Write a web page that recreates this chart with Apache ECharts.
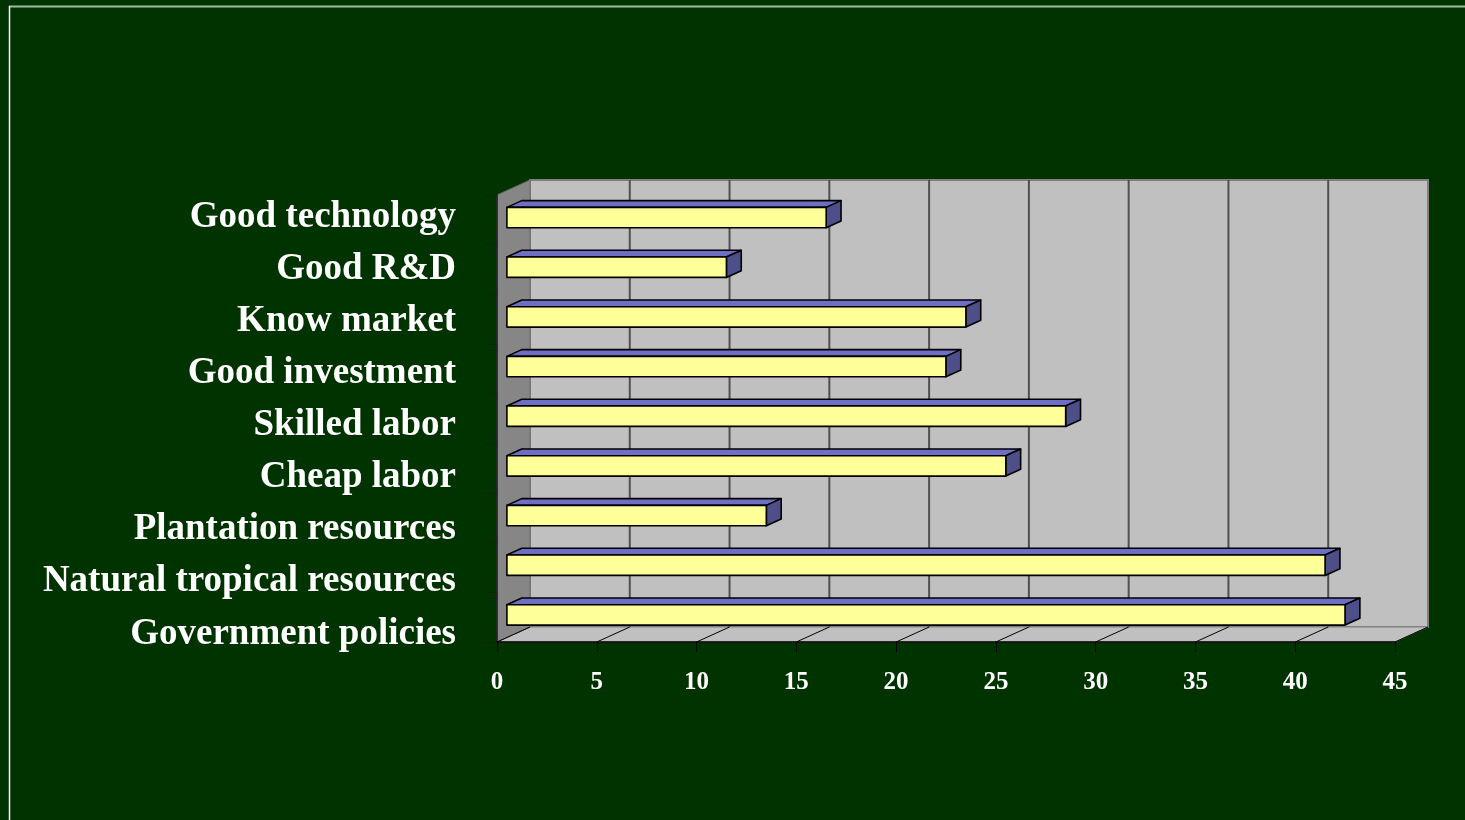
<!DOCTYPE html>
<html>
<head>
<meta charset="utf-8">
<script src="https://cdn.jsdelivr.net/npm/echarts@6/dist/echarts.min.js"></script>
<style>
  html, body { margin: 0; padding: 0; background: #003300; }
  #chart { width: 1465px; height: 820px; }
</style>
</head>
<body>
<div id="chart"></div>
<script>
// ---- data ----
const categories = ['Good technology', 'Good R&D', 'Know market', 'Good investment', 'Skilled labor', 'Cheap labor', 'Plantation resources', 'Natural tropical resources', 'Government policies'];
const values = [16, 11, 23, 22, 28, 25, 13, 41, 42];
const xTickValues = [0, 5, 10, 15, 20, 25, 30, 35, 40, 45];

// ---- 3D look ----
const DX = 33, DY = -15;          // depth vector (front plane -> back wall)
const BAR_FRONT = 0.30, BAR_DEPTH = 0.45;
const FONT = '"Liberation Serif", "Times New Roman", serif';

const chart = echarts.init(document.getElementById('chart'));

const barData = values.map((v, i) => [v, i]);
const tickData = xTickValues.map(v => [v, 0]);

function renderWalls(params, api) {
  const cs = params.coordSys;
  const L = cs.x, T = cs.y, R = cs.x + cs.width, B = cs.y + cs.height;
  return {
    type: 'group',
    children: [
      { type: 'rect', shape: { x: L + DX, y: T + DY, width: cs.width, height: cs.height },
        style: { fill: '#c0c0c0', stroke: '#808080', lineWidth: 2 } },
      { type: 'polygon', shape: { points: [[L, B], [R, B], [R + DX, B + DY], [L + DX, B + DY]] },
        style: { fill: '#c0c0c0', stroke: '#808080', lineWidth: 1 } },
      { type: 'polygon', shape: { points: [[L, T], [L + DX, T + DY], [L + DX, B + DY], [L, B]] },
        style: { fill: '#868686', stroke: '#6a6a6a', lineWidth: 1 } }
    ]
  };
}

function renderGridLines(params, api) {
  const cs = params.coordSys;
  const T = cs.y, B = cs.y + cs.height;
  const v = api.value(0);
  const p = api.coord([v, 0]);
  const x = p[0];
  const children = [
    { type: 'line', shape: { x1: x, y1: B, x2: x + DX, y2: B + DY },
      style: { stroke: '#000', lineWidth: 1 } }
  ];
  if (v > xTickValues[0] && v < xTickValues[xTickValues.length - 1]) {
    children.push({ type: 'line', shape: { x1: x + DX, y1: T + DY, x2: x + DX, y2: B + DY },
      style: { stroke: '#505050', lineWidth: 2 } });
  }
  return { type: 'group', children };
}

function renderBar(params, api) {
  const val = api.value(0), idx = api.value(1);
  const a = api.coord([0, idx]);
  const b = api.coord([val, idx]);
  const band = api.size([0, 1])[1];
  const ox = DX * BAR_FRONT, oy = DY * BAR_FRONT;
  const gx = DX * BAR_DEPTH, gy = DY * BAR_DEPTH;
  const bandTop = a[1] - band / 2;
  const y0 = bandTop + 0.34 * band + oy;
  const y1 = y0 + 0.41 * band;
  const x0 = a[0] + ox, x1 = b[0] + ox;
  const st = { stroke: '#000', lineWidth: 1.6, lineJoin: 'round' };
  return {
    type: 'group',
    children: [
      { type: 'polygon', shape: { points: [[x0, y0], [x1, y0], [x1 + gx, y0 + gy], [x0 + gx, y0 + gy]] },
        style: Object.assign({ fill: '#6e6ec4' }, st) },
      { type: 'polygon', shape: { points: [[x1, y0], [x1 + gx, y0 + gy], [x1 + gx, y1 + gy], [x1, y1]] },
        style: Object.assign({ fill: '#4e4e88' }, st) },
      { type: 'rect', shape: { x: x0, y: y0, width: x1 - x0, height: y1 - y0 },
        style: Object.assign({ fill: '#ffff99' }, st) }
    ]
  };
}

const option = {
  backgroundColor: '#003300',
  animation: false,
  graphic: [
    { type: 'line', shape: { x1: 9, y1: 6.5, x2: 1465, y2: 6.5 }, style: { stroke: '#a3b8a3', lineWidth: 2 } },
    { type: 'line', shape: { x1: 9.5, y1: 6, x2: 9.5, y2: 820 }, style: { stroke: '#ffffff', lineWidth: 1.5 } }
  ],
  grid: [
    { left: 497, top: 195, width: 898, height: 447 },
    { left: 465, top: 191.5, width: 10, height: 468.5 }
  ],
  xAxis: [
    { gridIndex: 0, type: 'value', min: 0, max: 45, interval: 5, z: 5,
      axisLine: { show: true, lineStyle: { color: '#000', width: 1.5 } },
      axisTick: { show: true, length: 10, lineStyle: { color: '#000', width: 1 } },
      splitLine: { show: false },
      axisLabel: { color: '#ffffff', fontFamily: FONT, fontWeight: 'bold', fontSize: 25, margin: 28 } },
    { gridIndex: 1, type: 'value', show: false }
  ],
  yAxis: [
    { gridIndex: 0, type: 'category', data: categories, inverse: true, z: 5,
      axisLine: { show: true, lineStyle: { color: '#1a1a1a', width: 1.5 } },
      axisTick: { show: true, length: 7, lineStyle: { color: '#1a1a1a', width: 1 } },
      axisLabel: { show: false }, splitLine: { show: false } },
    { gridIndex: 1, type: 'category', data: categories, inverse: true,
      axisLine: { show: false }, axisTick: { show: false }, splitLine: { show: false },
      axisLabel: { color: '#ffffff', fontFamily: FONT, fontWeight: 'bold', fontSize: 37, margin: 9, align: 'right' } }
  ],
  series: [
    { type: 'custom', name: 'walls', xAxisIndex: 0, yAxisIndex: 0, z: 1, silent: true,
      data: [[0, 0]], encode: { x: 0, y: 1 }, renderItem: renderWalls, clip: false },
    { type: 'custom', name: 'gridlines', xAxisIndex: 0, yAxisIndex: 0, z: 2, silent: true,
      data: tickData, encode: { x: 0, y: 1 }, renderItem: renderGridLines, clip: false },
    { type: 'custom', name: 'bars', xAxisIndex: 0, yAxisIndex: 0, z: 3,
      data: barData, encode: { x: 0, y: 1 }, renderItem: renderBar, clip: false }
  ]
};
chart.setOption(option);
</script>
</body>
</html>
